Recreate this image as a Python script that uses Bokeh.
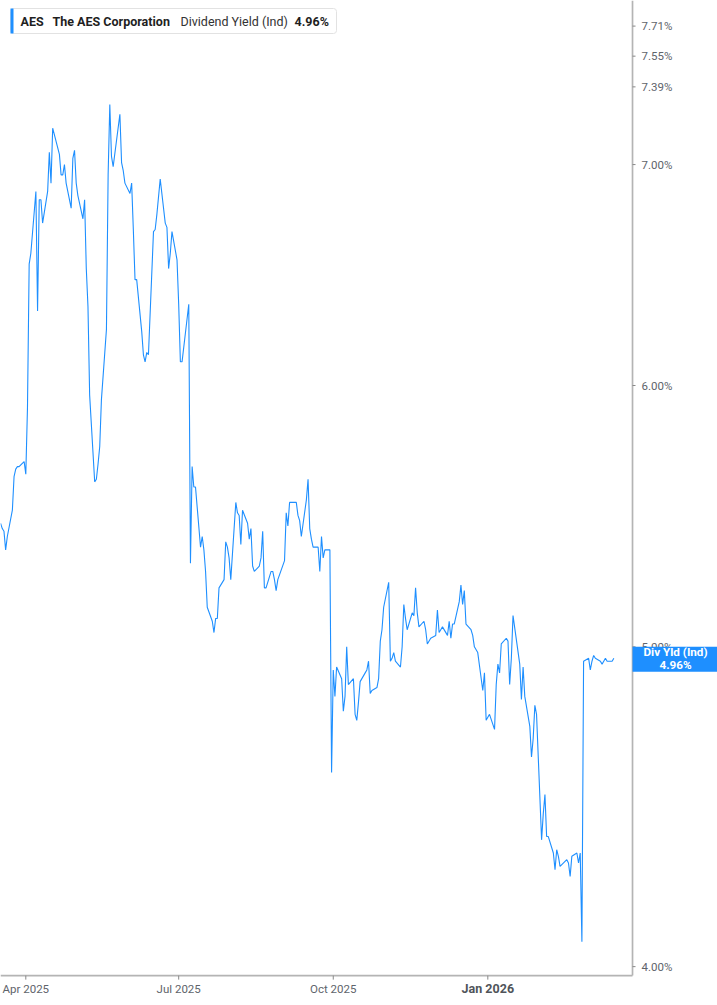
import math
import pandas as pd
from bokeh.plotting import figure
from bokeh.models import Range1d, Label, BoxAnnotation, ColumnDataSource
from bokeh.core.properties import value
from bokeh.embed import file_html
from bokeh.resources import INLINE

# ---------------- data ----------------
ticker_symbol = "AES"
company_name = "The AES Corporation"
metric_name = "Dividend Yield (Ind)"
last_value_text = "4.96%"
badge_text = "Div Yld (Ind)\n4.96%"

start_date = "2025-03-17"
market_holidays = ["2025-04-18", "2025-05-26", "2025-06-19", "2025-07-04", "2025-09-01",
                   "2025-11-27", "2025-12-25", "2026-01-01", "2026-01-19", "2026-02-16"]

dividend_yield = [
    5.45, 5.43, 5.42, 5.35, 5.40, 5.50, 5.63, 5.66, 5.67, 5.67,
    5.69, 5.64, 5.91, 6.53, 6.58, 6.87, 6.32, 6.83, 6.83, 6.72,
    6.87, 7.06, 6.91, 7.18, 7.05, 6.95, 6.95, 7.00, 6.91, 6.79,
    7.03, 7.07, 6.91, 6.85, 6.74, 6.83, 6.51, 6.34, 5.96, 5.61,
    5.62, 5.68, 5.75, 5.94, 6.24, 6.95, 7.30, 7.04, 6.99, 7.25,
    7.01, 6.97, 6.91, 6.86, 6.91, 6.69, 6.46, 6.46, 6.23, 6.13,
    6.10, 6.14, 6.13, 6.68, 6.69, 6.76, 6.93, 6.72, 6.70, 6.51,
    6.58, 6.68, 6.55, 6.35, 6.10, 6.10, 6.35, 5.30, 5.67, 5.59,
    5.59, 5.36, 5.40, 5.35, 5.27, 5.14, 5.09, 5.05, 5.10, 5.10,
    5.21, 5.24, 5.38, 5.36, 5.32, 5.24, 5.53, 5.49, 5.48, 5.37,
    5.50, 5.45, 5.39, 5.43, 5.29, 5.27, 5.29, 5.32, 5.42, 5.21,
    5.21, 5.27, 5.27, 5.24, 5.20, 5.24, 5.31, 5.49, 5.44, 5.53,
    5.53, 5.53, 5.48, 5.46, 5.40, 5.54, 5.62, 5.43, 5.39, 5.36,
    5.36, 5.27, 5.40, 5.32, 5.35, 5.35, 4.58, 4.92, 4.83, 4.93,
    4.89, 4.78, 4.83, 5.00, 4.87, 4.89, 4.77, 4.75, 4.81, 4.88,
    4.91, 4.92, 4.95, 4.84, 4.85, 4.86, 4.89, 5.02, 5.06, 5.14,
    5.23, 4.95, 4.96, 4.98, 4.95, 4.93, 5.00, 5.15, 5.10, 5.06,
    5.12, 5.11, 5.21, 5.12, 5.07, 5.09, 5.06, 5.01, 5.03, 5.04,
    5.13, 5.05, 5.06, 5.07, 5.04, 5.09, 5.03, 5.08, 5.08, 5.16,
    5.22, 5.15, 5.20, 5.08, 5.06, 5.04, 5.00, 4.98, 4.85, 4.91,
    4.75, 4.77, 4.72, 4.87, 4.94, 4.91, 5.01, 5.03, 5.02, 4.87,
    4.96, 5.11, 4.94, 4.82, 4.93, 4.83, 4.73, 4.63, 4.69, 4.80,
    4.77, 4.37, 4.45, 4.51, 4.38, 4.38, 4.33, 4.28, 4.34, 4.32,
    4.29, 4.31, 4.30, 4.26, 4.32, 4.33, 4.30, 4.33, 4.07, 4.95,
    4.96, 4.92, 4.95, 4.97, 4.96, 4.95, 4.94, 4.95, 4.96, 4.95,
    4.95, 4.96,
]

yield_ticks = [4.00, 5.00, 6.00, 7.00, 7.39, 7.55, 7.71]
yield_labels = ["4.00%", "5.00%", "6.00%", "7.00%", "7.39%", "7.55%", "7.71%"]
month_ticks = ["2025-04-01", "2025-07-01", "2025-10-01", "2026-01-01"]
month_labels = ["Apr 2025", "Jul 2025", "Oct 2025", "Jan 2026"]
month_label_styles = ["normal", "normal", "normal", "bold"]
month_label_sizes = ["11.5px", "11.5px", "11.5px", "12.5px"]
month_label_colors = ["#60646b", "#60646b", "#60646b", "#50545a"]

# view window (layout)
x_start, x_end = "2025-03-16 22:30", "2026-05-17 17:00"
axis_date = "2026-03-28 03:00"          # where the value axis stands
y_top, y_bottom = 7.849, 3.893
axis_floor = 3.975                      # value at the time axis line

# ---------------- build ----------------
W, H = 717, 1005
BLUE = "#1e8fff"
AXIS = "#b4b4b4"
FONT = "Roboto"

dates = pd.bdate_range(start=start_date, periods=len(dividend_yield), freq="C",
                       holidays=market_holidays)
src = ColumnDataSource(dict(date=dates, yld=dividend_yield))

p = figure(x_axis_type="datetime", y_axis_type="log",
           x_axis_location=None, y_axis_location=None,
           x_range=Range1d(pd.Timestamp(x_start), pd.Timestamp(x_end)),
           y_range=Range1d(y_bottom, y_top),
           width=W, height=H, min_border=0,
           min_border_left=0, min_border_right=0, min_border_top=0, min_border_bottom=0,
           toolbar_location=None, output_backend="svg")
p.outline_line_color = None
p.grid.visible = False
p.background_fill_color = "white"
p.border_fill_color = "white"

ax = pd.Timestamp(axis_date)

# axis lines
axis_src = ColumnDataSource(dict(
    x0=pd.to_datetime([x_start, axis_date]), y0=[axis_floor, axis_floor],
    x1=pd.to_datetime([axis_date, axis_date]), y1=[axis_floor, y_top]))
p.segment(x0="x0", y0="y0", x1="x1", y1="y1", source=axis_src,
          line_color=AXIS, line_width=1.7)

# value axis ticks + labels
ytick_src = ColumnDataSource(dict(x=pd.to_datetime([axis_date] * len(yield_ticks)),
                                  y=yield_ticks, text=yield_labels))
p.ray(x="x", y="y", source=ytick_src, length=3, length_units="screen", angle=0,
      line_color="#888888", line_width=1)
p.text(x="x", y="y", text="text", source=ytick_src, x_offset=9,
       text_align="left", text_baseline="middle", text_font=value(FONT),
       text_font_size="11.5px", text_color="#60646b")

# time axis ticks + labels
xtick_src = ColumnDataSource(dict(x=pd.to_datetime(month_ticks),
                                  y=[axis_floor] * len(month_ticks),
                                  text=month_labels, style=month_label_styles,
                                  size=month_label_sizes, color=month_label_colors))
p.ray(x="x", y="y", source=xtick_src, length=4, length_units="screen",
      angle=-math.pi / 2, line_color="#888888", line_width=1)
p.text(x="x", y="y", text="text", source=xtick_src, y_offset=13,
       text_align="center", text_baseline="middle", text_font=value(FONT),
       text_font_style="style", text_font_size="size", text_color="color")

# data line
p.line(x="date", y="yld", source=src, line_color=BLUE, line_width=1.1)

# right value badge
last = dividend_yield[-1]
p.add_layout(BoxAnnotation(left=ax, right=pd.Timestamp(x_end),
                           top=last * math.exp(11.5 / 1433), bottom=last * math.exp(-13.5 / 1433),
                           fill_color=BLUE, fill_alpha=1.0, line_color=None,
                           level="annotation"))
p.add_layout(Label(x=ax, y=last, x_offset=43, text=badge_text,
                   text_align="center", text_baseline="middle",
                   text_font=FONT, text_font_style="bold", text_font_size="11.7px",
                   text_color="white", text_line_height=0.95))

# header box
p.add_layout(BoxAnnotation(left=10, right=336, top=H - 8, bottom=H - 33,
                           left_units="screen", right_units="screen",
                           top_units="screen", bottom_units="screen",
                           fill_color="white", fill_alpha=1.0,
                           line_color="#e2e2e2", line_alpha=1.0, line_width=1,
                           border_radius=3, level="annotation"))
p.add_layout(BoxAnnotation(left=10, right=13, top=H - 8, bottom=H - 33,
                           left_units="screen", right_units="screen",
                           top_units="screen", bottom_units="screen",
                           fill_color=BLUE, fill_alpha=1.0, line_color=None,
                           level="annotation"))
header_parts = [(ticker_symbol, 20, "bold", "#1f1f1f"),
                (company_name, 52, "bold", "#1f1f1f"),
                (metric_name, 180, "normal", "#333333"),
                (last_value_text, 294, "bold", "#1f1f1f")]
for txt, xpos, style, col in header_parts:
    p.add_layout(Label(x=xpos, y=H - 21, x_units="screen", y_units="screen", text=txt,
                       text_align="left", text_baseline="middle", text_font=FONT,
                       text_font_style=style, text_font_size="12.5px", text_color=col))

open("out.html", "w").write(file_html(p, INLINE))
